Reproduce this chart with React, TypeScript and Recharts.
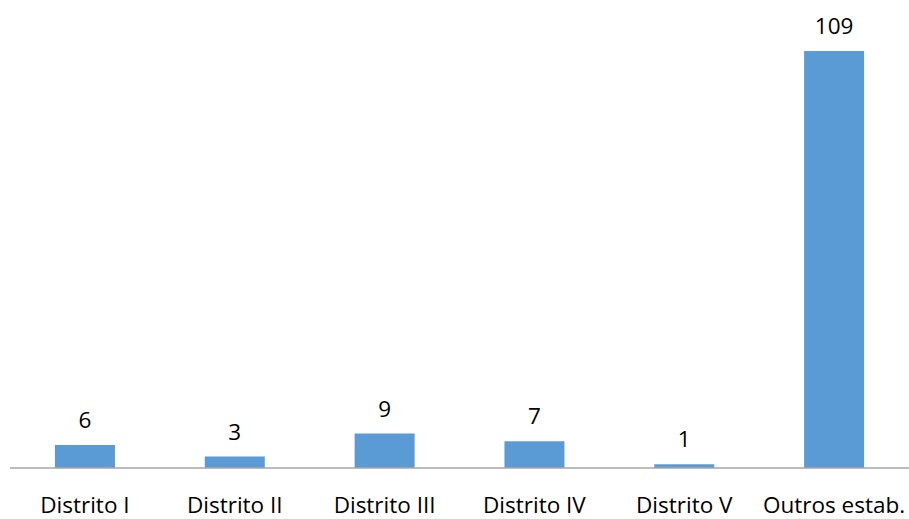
import { Bar, BarChart, LabelList, XAxis, YAxis } from 'recharts'

const categories = ['Distrito I', 'Distrito II', 'Distrito III', 'Distrito IV', 'Distrito V', 'Outros estab.']
const counts = [6, 3, 9, 7, 1, 109]

const data = categories.map((name, i) => ({ name, value: counts[i] }))

const font = '"Open Sans", sans-serif'

export default function App() {
  return (
    <div style={{ position: 'absolute', left: 0, top: 0, width: 909, height: 519, background: '#fff' }}>
      <BarChart
        width={909}
        height={519}
        data={data}
        margin={{ top: 51, right: 0, left: 10, bottom: 0 }}
        barCategoryGap="30%"
      >
        <XAxis
          dataKey="name"
          height={51}
          tickLine={false}
          axisLine={{ stroke: '#a6a6a6', strokeWidth: 1.5 }}
          tickMargin={23}
          interval={0}
          tick={{ fill: '#000', fontSize: 22.5, fontFamily: font }}
        />
        <YAxis hide domain={[0, 109]} />
        <Bar dataKey="value" fill="#5b9bd5" isAnimationActive={false}>
          <LabelList
            dataKey="value"
            position="top"
            offset={17}
            style={{ fill: '#000', fontSize: 22.5, fontFamily: font }}
          />
        </Bar>
      </BarChart>
    </div>
  )
}
